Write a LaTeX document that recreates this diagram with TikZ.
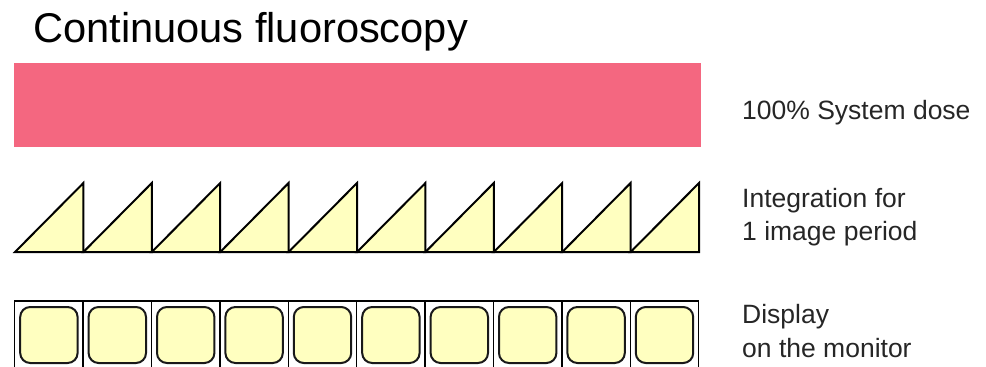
\documentclass[tikz,border=0pt]{standalone}
\usepackage{fontspec}
\setmainfont{Liberation Sans}
\begin{document}
\begin{tikzpicture}[x=1pt,y=-1pt,
  dosebar/.style={fill=dosepink,draw=none},
  saw/.style={fill=paleyellow,draw=black,line width=2pt,line join=miter},
  frame/.style={draw=black,line width=1.5pt,fill=white},
  screen/.style={fill=paleyellow,draw=black!90,line width=2pt,rounded corners=10pt},
  lbl/.style={anchor=base west,inner sep=0pt,font=\fontsize{26.5}{33}\selectfont,text=black!85,align=left}]
\definecolor{dosepink}{RGB}{244,103,128}
\definecolor{paleyellow}{RGB}{255,255,192}
\useasboundingbox (0,0) rectangle (986,367);
\clip (0,0) rectangle (986,367);
% title
\node[anchor=base west,inner sep=0pt,font=\fontsize{41.6}{48}\selectfont,text=black] (title) at (33,42) {Continuous fluoroscopy};
% dose bar
\fill[dosebar] (14,63) rectangle (701,147);
% integration sawtooth
\foreach \i in {0,...,9}{
  \pgfmathsetmacro{\xa}{15+68.4*\i}
  \pgfmathsetmacro{\xb}{15+68.4*(\i+1)}
  \draw[saw] (\xa,252) -- (\xb,252) -- (\xb,183) -- cycle;
}
% display frames
\foreach \i in {0,...,9}{
  \pgfmathsetmacro{\xa}{14.7+68.4*\i}
  \pgfmathsetmacro{\xb}{14.7+68.4*(\i+1)}
  \draw[frame] (\xa,301) rectangle (\xb,372);
  \draw[screen] (\xa+5.5,307) rectangle (\xb-5.5,363);
}
% labels
\node[lbl] (dose) at (742,119) {100\% System dose};
\node[lbl] (integ) at (742,207) {Integration for};
\node[lbl] (integb) at (742,240) {1 image period};
\node[lbl] (disp) at (742,323) {Display};
\node[lbl] (dispb) at (742,357) {on the monitor};
\end{tikzpicture}
\end{document}
